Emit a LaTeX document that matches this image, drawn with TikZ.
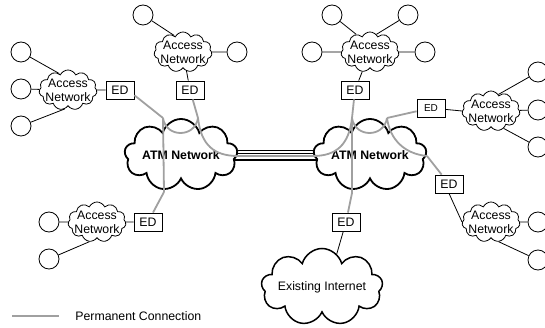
\documentclass[tikz,border=0pt]{standalone}
\usepackage{fontspec}
\setmainfont{Liberation Sans}
\usetikzlibrary{shapes.symbols,backgrounds}
\definecolor{linkgray}{RGB}{160,160,160}

\begin{document}
\begin{tikzpicture}[x=1pt,y=-1pt,thick,
  leaf node/.style={circle,draw,minimum size=20pt,inner sep=0pt,line width=0.8pt},
  access node/.style={cloud,cloud puffs=11,cloud puff arc=130,cloud ignores aspect,draw,minimum width=58pt,minimum height=40pt,inner sep=0pt,line width=0.8pt},
  access text/.style={align=center,inner sep=0pt,font=\fontsize{12.3}{14}\selectfont},
  big cloud/.style={cloud,cloud puffs=9,cloud puff arc=150,cloud ignores aspect,draw,fill=white,inner sep=0pt,line width=1.8pt,font=\fontsize{12.3}{14}\selectfont},
  ed node/.style={rectangle,draw,fill=white,minimum width=28pt,minimum height=18pt,inner sep=0pt,line width=0.8pt,font=\fontsize{12.3}{14}\selectfont},
  perm/.style={linkgray,line width=1.8pt},
  wire/.style={black,line width=0.8pt}]

 \useasboundingbox (0,0) rectangle (545,328);

 \node[big cloud,minimum width=113pt,minimum height=72pt,font=\fontsize{12.3}{14}\selectfont\bfseries] (atmL) at (181,155) {ATM Network};
 \node[big cloud,minimum width=113pt,minimum height=72pt,font=\fontsize{12.3}{14}\selectfont\bfseries] (atmR) at (370,155) {ATM Network};
 \node[big cloud,minimum width=111pt,minimum height=77pt,line width=1.5pt] (inet) at (322,287) {Existing Internet};

 \begin{scope}[on background layer]
  \draw[line width=1.3pt] ([yshift=4.5pt]atmL.center) -- ([yshift=4.5pt]atmR.center);
  \draw[line width=1pt] ([yshift=1pt]atmL.center) -- ([yshift=1pt]atmR.center);
  \draw[line width=1.3pt] ([yshift=-5pt]atmL.center) -- ([yshift=-5pt]atmR.center);
 \end{scope}

 \node[access node] (anL) at (68,90) {};
 \node[access node] (anTL) at (183,52) {};
 \node[access node] (anTR) at (370,52) {};
 \node[access node] (anR) at (491,111) {};
 \node[access node] (anBR) at (491,222) {};
 \node[access node] (anBL) at (97,222) {};
 \node[access text] at (anL) {Access\\Network};
 \node[access text] at (anTL) {Access\\Network};
 \node[access text] at (anTR) {Access\\Network};
 \node[access text] at (anR) {Access\\Network};
 \node[access text] at (anBR) {Access\\Network};
 \node[access text] at (anBL) {Access\\Network};

 \node[ed node] (edL) at (120,90) {ED};
 \node[ed node] (edTL) at (190,90) {ED};
 \node[ed node] (edTR) at (355,90) {ED};
 \node[ed node,font=\fontsize{10}{12}\selectfont] (edR) at (431,108) {ED};
 \node[ed node] (edBR) at (449,184) {ED};
 \node[ed node] (edB) at (346,222) {ED};
 \node[ed node] (edBL) at (148,222) {ED};

 \node[leaf node] (c1) at (21,52) {};
 \node[leaf node] (c2) at (21,89) {};
 \node[leaf node] (c3) at (21,126) {};
 \node[leaf node] (c4) at (143,15) {};
 \node[leaf node] (c5) at (237,52) {};
 \node[leaf node] (c6) at (332,15) {};
 \node[leaf node] (c7) at (408,15) {};
 \node[leaf node] (c8) at (312,52) {};
 \node[leaf node] (c9) at (425,52) {};
 \node[leaf node] (c10) at (538,72) {};
 \node[leaf node] (c11) at (538,110) {};
 \node[leaf node] (c12) at (538,147) {};
 \node[leaf node] (c13) at (538,222) {};
 \node[leaf node] (c14) at (538,260) {};
 \node[leaf node] (c15) at (49,222) {};
 \node[leaf node] (c16) at (49,259) {};

 \path[wire]
    (c1)	edge (anL.118)
    (c2)	edge (anL)
    (c3)	edge (anL.-100)
    (anL)	edge (edL)
    (c4)	edge (anTL.118)
    (anTL)	edge (c5)
    (anTL)	edge (edTL)
    (c6)	edge (anTR.128)
    (c7)	edge (anTR.70)
    (c8)	edge (anTR)
    (anTR)	edge (c9)
    (anTR)	edge (edTR)
    (edR)	edge (anR.west)
    (anR.66)	edge (c10)
    (anR)	edge (c11)
    (anR.-54)	edge (c12)
    (edBR.south)	edge (anBR.west)
    (anBR)	edge (c13)
    (anBR.-69)	edge (c14)
    (c15)	edge (anBL)
    (c16)	edge (anBL.-111)
    (anBL)	edge (edBL)
    (edB)	edge (inet.66);

 \coordinate (p1) at (163,118);
 \coordinate (p2) at (198,118);
 \coordinate (p3) at (164,192);
 \coordinate (p4) at (238,156);
 \coordinate (p5) at (313,156);
 \coordinate (p6) at (352,118);
 \coordinate (p7) at (387,118);
 \coordinate (p8) at (352,193);
 \coordinate (p9) at (427,156);

 \path[perm]
    (edL.-20)	edge (p1)
    (edTL)	edge (p2)
    (edTR)	edge (p6)
    (edR)	edge (p7)
    (p1)	edge (p3)
    (p3)	edge (edBL)
    (p6)	edge (p8)
    (p8)	edge (edB)
    (p9)	edge (edBR);
 \draw[perm] (p1) .. controls (166,138) and (195,138) .. (p2);
 \draw[perm] (p2) .. controls (201,145) and (214,156) .. (p4) -- (p5)
    .. controls (336,156) and (349,145) .. (p6);
 \draw[perm] (p6) .. controls (355,138) and (384,138) .. (p7);
 \draw[perm] (p7) .. controls (390,140) and (405,154) .. (p9);

 \coordinate (k1) at (12,316);
 \coordinate (k2) at (59,316);
 \draw[perm] (k1) -- (k2);
 \node[access text,anchor=west] (key) at (75,316) {Permanent Connection};

\end{tikzpicture}
\end{document}
